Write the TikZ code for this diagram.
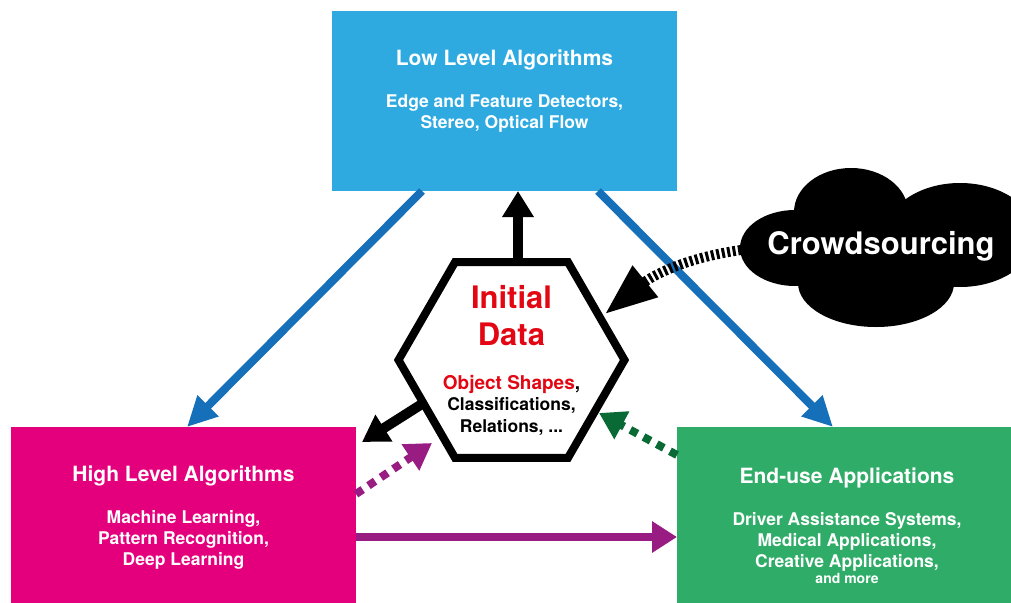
\documentclass[tikz,border=0pt]{standalone}
\usepackage{fontspec}
\setmainfont{TeX Gyre Heros}
\usetikzlibrary{arrows.meta,shapes.geometric,calc}
\definecolor{lowblue}{RGB}{46,170,225}
\definecolor{highmag}{RGB}{228,0,124}
\definecolor{endgreen}{RGB}{47,173,104}
\definecolor{arrowblue}{RGB}{22,112,185}
\definecolor{purp}{RGB}{152,28,130}
\definecolor{dgreen}{RGB}{10,106,54}
\definecolor{initred}{RGB}{227,6,19}
\begin{document}
\begin{tikzpicture}[x=1pt,y=-1pt,
  box/.style={rectangle, inner sep=0pt, outer sep=0pt, minimum width=345pt, draw=none},
  txt/.style={inner sep=0pt, text=white, align=center},
  tit/.style={txt, font=\bfseries\fontsize{21}{25}\selectfont, anchor=base},
  subt/.style={txt, font=\bfseries\fontsize{17.5}{21}\selectfont, anchor=north},
  bluearr/.style={draw=arrowblue, line width=8pt, -{Triangle[length=30pt,width=28pt]}},
  blkarr/.style={draw=black, line width=10pt, -{Triangle[length=26pt,width=30pt]}},
  purparr/.style={draw=purp, line width=8.5pt, -{Triangle[length=25pt,width=30pt]}},
  dotarr/.style={line width=8pt, dash pattern=on 8pt off 7pt, -{Triangle[length=26pt,width=30pt]}},
  crowdarr/.style={draw=black, line width=10pt, dash pattern=on 3pt off 2.5pt, -{Triangle[length=52pt,width=38pt]}}
]
\useasboundingbox (0,0) rectangle (1011,602);
\clip (0,0) rectangle (1011,602);
\fill[white] (0,0) rectangle (1011,602);

% boxes
\node[box, fill=lowblue, minimum height=180pt] (low) at (504.5,101) {};
\node[box, fill=highmag, minimum height=185pt] (high) at (183.5,519.5) {};
\node[box, fill=endgreen, minimum height=185pt] (end) at (849.5,519.5) {};

% hexagon
\node[regular polygon, regular polygon sides=6, minimum size=226pt, draw, line width=8pt,
      line join=miter, inner sep=0pt] (hex) at (511.5,360) {};

% cloud
\fill[black] (795,248) ellipse [x radius=55, y radius=38];
\fill[black] (851,212) ellipse [x radius=57, y radius=44];
\fill[black] (960,235) ellipse [x radius=75, y radius=52];
\fill[black] (876,283) ellipse [x radius=78, y radius=44];
\fill[black] (870,250) ellipse [x radius=90, y radius=45];
\coordinate (cloudL) at (741,250);

% texts
\node[tit] (lowt) at (504.5,65) {Low Level Algorithms};
\node[subt] (lows) at (504.5,94.4) {Edge and Feature Detectors,\\Stereo, Optical Flow};
\node[tit] (hight) at (183.5,481) {High Level Algorithms};
\node[subt] (highs) at (183.5,510.4) {Machine Learning,\\Pattern Recognition,\\Deep Learning};
\node[tit] (endt) at (847,483) {End-use Applications};
\node[subt] (ends) at (847,512.4) {Driver Assistance Systems,\\Medical Applications,\\Creative Applications,};
\node[txt, font=\bfseries\fontsize{14}{16}\selectfont, anchor=base] (more) at (847,583) {and more};

\node[inner sep=0pt, align=center, anchor=north, text=initred,
      font=\bfseries\fontsize{31}{37}\selectfont] (init) at (511.5,285.5) {Initial\\Data};
\node[inner sep=0pt, anchor=base, font=\bfseries\fontsize{19}{22}\selectfont] (objs) at (511.5,389)
  {\textcolor{initred}{Object Shapes},};
\node[inner sep=0pt, align=center, anchor=north, font=\bfseries\fontsize{17.5}{22}\selectfont] (cls)
  at (511.5,397.4) {Classifications,\\Relations, ...};

\node[inner sep=0pt, anchor=base, text=white, font=\bfseries\fontsize{31}{37}\selectfont] (crowd)
  at (881,254) {Crowdsourcing};

% connectors
\draw[bluearr] ($(low.south west)+(90,0)$) -- ($(high.north west)+(176,0)$);
\draw[bluearr] ($(low.south east)+(-79,0)$) -- ($(end.north west)+(156,0)$);
\draw[blkarr] ($(hex.north)+(6.5,2)$) -- ($(low.south)+(13.5,0)$);
\draw[blkarr] ($(hex.center)+(-88,43)$) -- ($(high.north east)+(6,15)$);
\draw[dotarr, draw=purp] ($(high.east)+(0,-25.5)$) -- ($(hex.center)+(-79.5,83)$);
\draw[purparr] ($(high.east)+(0,17.5)$) -- ($(end.west)+(0,17.5)$);
\draw[dotarr, draw=dgreen] ($(end.west)+(0,-64.5)$) -- ($(hex.center)+(87.5,53)$);
\draw[crowdarr] (cloudL) to[out=188, in=39] ($(hex.center)+(93.5,-46)$);
\end{tikzpicture}
\end{document}
